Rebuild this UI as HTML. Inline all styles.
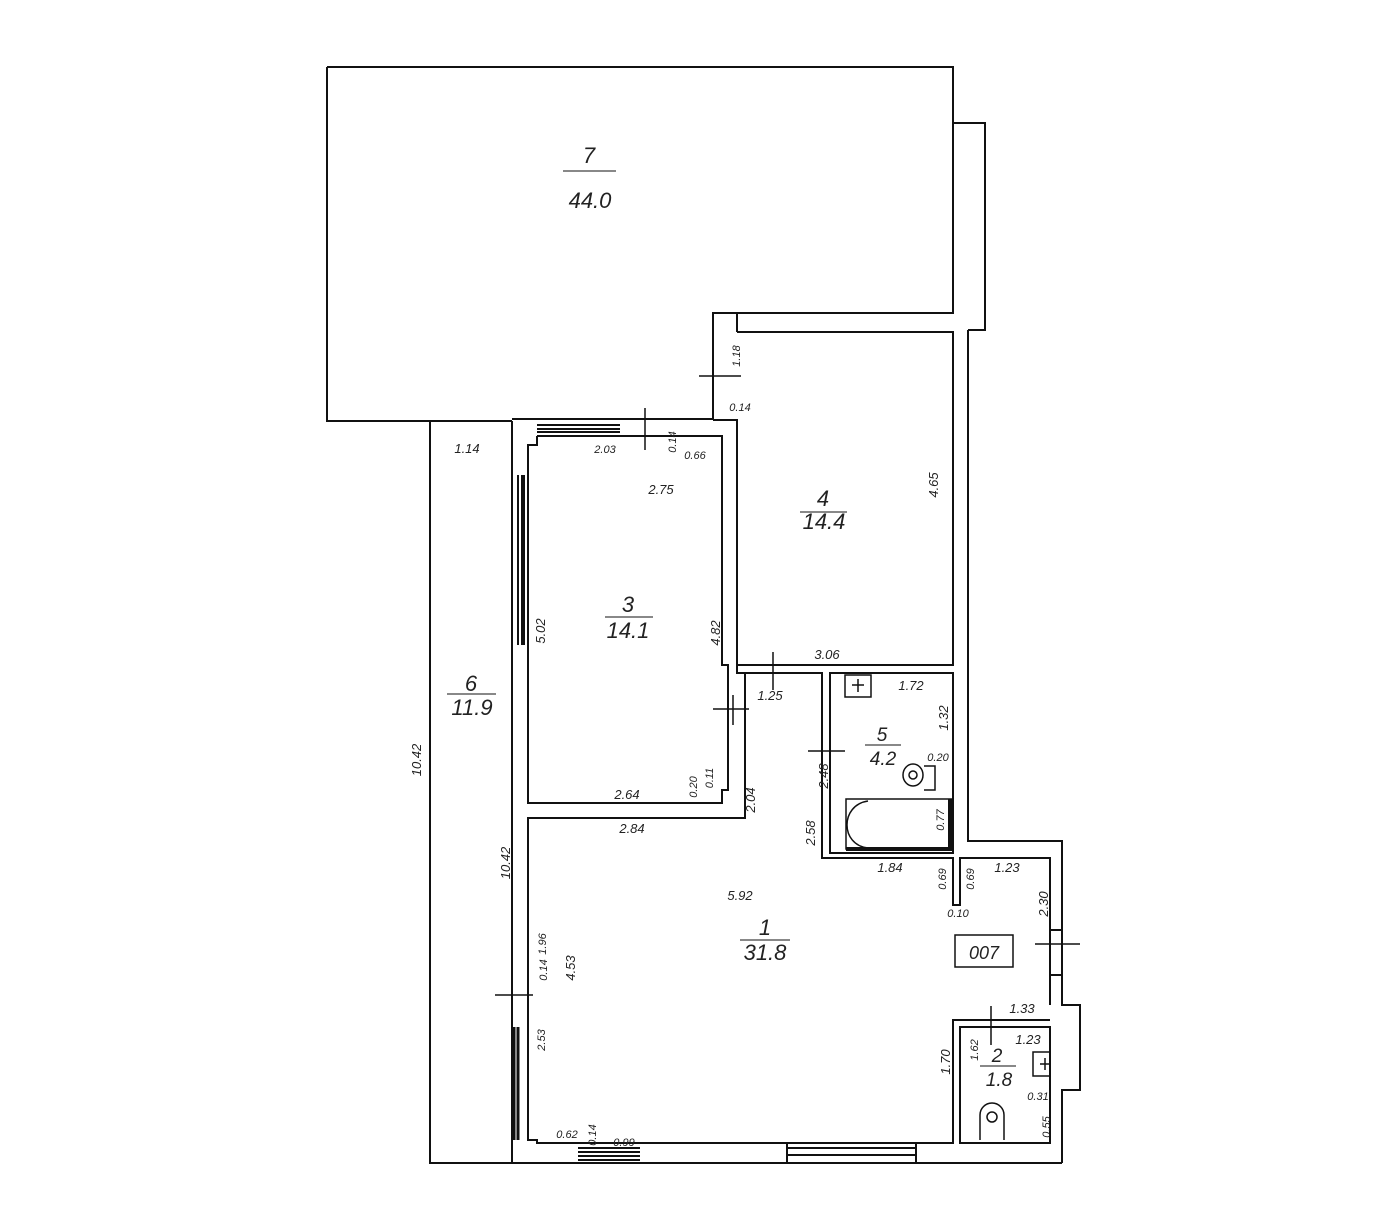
<!DOCTYPE html>
<html><head><meta charset="utf-8"><style>
html,body{margin:0;padding:0;background:#fff}
svg text{font-family:"Liberation Sans",sans-serif;font-style:italic;fill:#222}
</style></head><body>
<svg width="1390" height="1223" viewBox="0 0 1390 1223" xmlns="http://www.w3.org/2000/svg">
<g fill="none" stroke="#111" stroke-width="2">
<path d="M327,67 H953 V313 H713 V419 H512 M327,67 V421 H512"/>
<path d="M953,123 H985 V330 H968"/>
<path d="M430,421 V1163 H1062"/>
<path d="M512,421 V1163"/>
<path d="M537,436 H722 V665 H728 V790 H722 V803 H528 V645 M528,475 V445 H537 V436"/>
<path d="M528,645 V475"/>
<path d="M737,332 H953 V665 H737 V420 H713 M737,332 V313"/>
<path d="M968,330 V841 H1062 V1005 H1080 V1090 H1062 V1163"/>
<path d="M830,673 H953 V853 H830 Z"/>
<path d="M737,665 V673 H822 V858 H953 V905 H960 V858 H1050 V1005"/>
<path d="M1050,1020 H953 V1143 H537 V1140 H528 V818 H745 V673"/>
<path d="M960,1027 H1050 V1143 H960 Z"/>
<path d="M518,475 V645 M522,475 V645 M524,475 V645"/>
<path d="M537,425 H620 M537,429 H620 M537,432 H620"/>
<path d="M578,1148 H640 M578,1152 H640 M578,1156 H640 M578,1160 H640"/>
<path d="M787,1148 H916 M787,1155 H916 M787,1143 V1163 M916,1143 V1163"/>
<path d="M1050,930 H1062 M1050,975 H1062"/>
</g>
<path d="M514,1027 V1140 M518,1027 V1140" stroke="#111" stroke-width="3"/>
<g stroke="#111" stroke-width="1.5">
<path d="M699,376 H741 M713,355 V397"/>
<path d="M645,408 V450"/>
<path d="M773,652 V690"/>
<path d="M713,709 H749 M733,695 V725"/>
<path d="M808,751 H845"/>
<path d="M495,995 H533"/>
<path d="M1035,944 H1080"/>
<path d="M991,1006 V1045"/>
</g>
<g fill="none" stroke="#111" stroke-width="1.5">
<rect x="845" y="675" width="26" height="22"/>
<path d="M858,679 V692 M852,685 H864"/>
<rect x="846" y="799" width="106" height="50"/>
<path d="M868,801 C840,805 840,845 868,848"/>
<rect x="1033" y="1052" width="17" height="24"/>
<path d="M1045,1058 V1070 M1040,1064 H1050"/>
<ellipse cx="913" cy="775" rx="10" ry="11"/>
<circle cx="913" cy="775" r="4"/>
<path d="M924,766 H935 V790 H924"/>
<path d="M980,1140 V1115 A12,12 0 0 1 1004,1115 V1140"/>
<circle cx="992" cy="1117" r="5"/>
<rect x="955" y="935" width="58" height="32"/>
</g>
<path d="M950,799 V849 M846,849 H952" stroke="#111" stroke-width="4"/>
<g font-size="22" text-anchor="middle">
<text x="589" y="163" font-style="normal">7</text><path d="M563,171 H616" stroke="#111"/>
<text x="590" y="208">44.0</text>
<text x="823" y="506" font-style="normal">4</text><path d="M800,512 H847" stroke="#111"/>
<text x="824" y="529">14.4</text>
<text x="628" y="612" font-style="normal">3</text><path d="M605,617 H653" stroke="#111"/>
<text x="628" y="638">14.1</text>
<text x="471" y="691" font-style="normal">6</text><path d="M447,694 H496" stroke="#111"/>
<text x="472" y="715">11.9</text>
<text x="765" y="935" font-style="normal">1</text><path d="M740,940 H790" stroke="#111"/>
<text x="765" y="960">31.8</text>
<text x="882" y="741" font-style="normal" font-size="19">5</text><path d="M865,745 H901" stroke="#111"/>
<text x="883" y="765" font-size="19">4.2</text>
<text x="997" y="1062" font-style="normal" font-size="19">2</text><path d="M980,1066 H1016" stroke="#111"/>
<text x="999" y="1086" font-size="19">1.8</text>
<text x="984" y="959" font-style="normal" font-size="18">007</text>
</g>
<g font-size="13" text-anchor="middle">
<text x="467" y="453">1.14</text>
<text x="605" y="453" font-size="11">2.03</text>
<text x="695" y="459" font-size="11">0.66</text>
<text x="661" y="494">2.75</text>
<text x="827" y="659">3.06</text>
<text x="770" y="700">1.25</text>
<text x="911" y="690">1.72</text>
<text x="627" y="799">2.64</text>
<text x="632" y="833">2.84</text>
<text x="890" y="872">1.84</text>
<text x="1007" y="872">1.23</text>
<text x="740" y="900">5.92</text>
<text x="1022" y="1013">1.33</text>
<text x="1028" y="1044">1.23</text>
<text x="938" y="761" font-size="11">0.20</text>
<text x="1038" y="1100" font-size="11">0.31</text>
<text x="958" y="917" font-size="11">0.10</text>
<text x="567" y="1138" font-size="11">0.62</text>
<text x="624" y="1146" font-size="11">0.99</text>
<text x="740" y="411" font-size="11">0.14</text>
</g>
<g font-size="13" text-anchor="middle">
<text transform="translate(740,356) rotate(-90)" font-size="11">1.18</text>
<text transform="translate(938,485) rotate(-90)">4.65</text>
<text transform="translate(720,633) rotate(-90)">4.82</text>
<text transform="translate(545,631) rotate(-90)">5.02</text>
<text transform="translate(421,760) rotate(-90)">10.42</text>
<text transform="translate(510,863) rotate(-90)">10.42</text>
<text transform="translate(755,800) rotate(-90)">2.04</text>
<text transform="translate(815,833) rotate(-90)">2.58</text>
<text transform="translate(828,776) rotate(-90)">2.48</text>
<text transform="translate(948,718) rotate(-90)">1.32</text>
<text transform="translate(1048,904) rotate(-90)">2.30</text>
<text transform="translate(950,1062) rotate(-90)">1.70</text>
<text transform="translate(575,968) rotate(-90)">4.53</text>
<text transform="translate(545,1040) rotate(-90)" font-size="11">2.53</text>
<text transform="translate(546,944) rotate(-90)" font-size="11">1.96</text>
<text transform="translate(547,970) rotate(-90)" font-size="11">0.14</text>
<text transform="translate(697,787) rotate(-90)" font-size="11">0.20</text>
<text transform="translate(713,778) rotate(-90)" font-size="11">0.11</text>
<text transform="translate(676,442) rotate(-90)" font-size="11">0.14</text>
<text transform="translate(946,879) rotate(-90)" font-size="11">0.69</text>
<text transform="translate(974,879) rotate(-90)" font-size="11">0.69</text>
<text transform="translate(944,820) rotate(-90)" font-size="11">0.77</text>
<text transform="translate(978,1050) rotate(-90)" font-size="11">1.62</text>
<text transform="translate(1050,1127) rotate(-90)" font-size="11">0.55</text>
<text transform="translate(596,1135) rotate(-90)" font-size="11">0.14</text>
</g>
</svg>
</body></html>
